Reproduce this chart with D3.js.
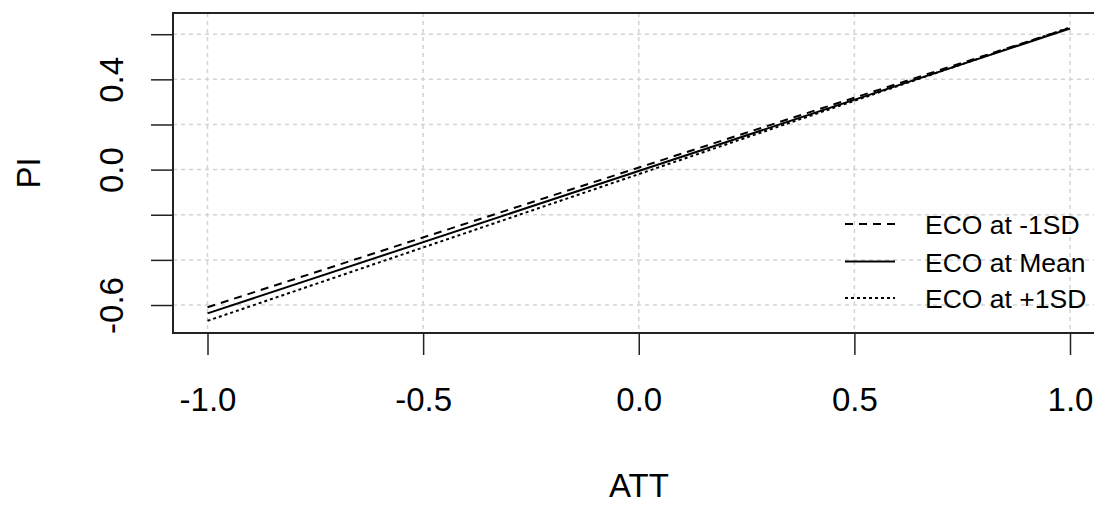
<!DOCTYPE html>
<html>
<head>
<meta charset="utf-8">
<script src="https://cdn.jsdelivr.net/npm/d3@7"></script>
<style>
  html, body { margin: 0; padding: 0; background: #fff; }
  svg { display: block; font-family: "Liberation Sans", Arial, sans-serif; }
</style>
</head>
<body>
<svg id="chart" width="1094" height="505"></svg>
<script>
// ---- data ----
const attValues = [-1, 1];
const ecoMinus1SD = [-0.610, 0.628];
const ecoMean = [-0.637, 0.625];
const ecoPlus1SD = [-0.670, 0.630];
const seriesNames = ["ECO at -1SD", "ECO at Mean", "ECO at +1SD"];
const xTicks = [-1.0, -0.5, 0.0, 0.5, 1.0];
const xTickLabels = ["-1.0", "-0.5", "0.0", "0.5", "1.0"];
const yTicks = [-0.6, -0.4, -0.2, 0.0, 0.2, 0.4, 0.6];
const yTickLabels = ["-0.6", "", "", "0.0", "", "0.4", ""];
const xDomain = [-1.08, 1.08];
const yDomain = [-0.724, 0.694];

// ---- layout ----
const svg = d3.select("#chart");
const plot = { left: 173, right: 1104.5, top: 13, bottom: 333 };
const x = d3.scaleLinear().domain(xDomain).range([plot.left, plot.right]);
const y = d3.scaleLinear().domain(yDomain).range([plot.bottom, plot.top]);

const dashes = ["8,6", null, "3,3"];
const seriesData = [ecoMinus1SD, ecoMean, ecoPlus1SD];

// grid
const grid = svg.append("g");
grid.selectAll("line.gx").data(xTicks).enter().append("line")
  .attr("x1", d => x(d)).attr("x2", d => x(d))
  .attr("y1", plot.top).attr("y2", plot.bottom)
  .attr("stroke", "#d3d3d3").attr("stroke-width", 1.5).attr("stroke-dasharray", "4,4");
grid.selectAll("line.gy").data(yTicks).enter().append("line")
  .attr("y1", d => y(d)).attr("y2", d => y(d))
  .attr("x1", plot.left).attr("x2", plot.right)
  .attr("stroke", "#d3d3d3").attr("stroke-width", 1.5).attr("stroke-dasharray", "4,4");

// lines
const clip = svg.append("clipPath").attr("id", "clip").append("rect")
  .attr("x", plot.left).attr("y", plot.top)
  .attr("width", plot.right - plot.left).attr("height", plot.bottom - plot.top);
const lineGen = d3.line().x(d => x(d[0])).y(d => y(d[1]));
seriesData.forEach((vals, i) => {
  const pts = attValues.map((a, j) => [a, vals[j]]);
  svg.append("path")
    .attr("d", lineGen(pts))
    .attr("fill", "none")
    .attr("stroke", "#000")
    .attr("stroke-width", 2)
    .attr("stroke-dasharray", dashes[i])
    .attr("clip-path", "url(#clip)");
});

// box
svg.append("rect")
  .attr("x", plot.left).attr("y", plot.top)
  .attr("width", plot.right - plot.left).attr("height", plot.bottom - plot.top)
  .attr("fill", "none").attr("stroke", "#222").attr("stroke-width", 2);

// axes
const xAxis = d3.axisBottom(x).tickValues(xTicks).tickSize(22).tickPadding(33)
  .tickFormat((d, i) => xTickLabels[i]);
const gx = svg.append("g").attr("transform", `translate(0,${plot.bottom})`).call(xAxis);
gx.select(".domain").remove();
gx.selectAll(".tick line").attr("stroke", "#222").attr("stroke-width", 1.5);
gx.selectAll(".tick text").attr("font-size", 33).attr("fill", "#000")
  .attr("font-family", "Liberation Sans, Arial, sans-serif");

const yAxis = d3.axisLeft(y).tickValues(yTicks).tickSize(22).tickFormat((d, i) => yTickLabels[i]);
const gy = svg.append("g").attr("transform", `translate(${plot.left},0)`).call(yAxis);
gy.select(".domain").remove();
gy.selectAll(".tick line").attr("stroke", "#222").attr("stroke-width", 1.5);
gy.selectAll(".tick text")
  .attr("font-size", 33).attr("fill", "#000")
  .attr("font-family", "Liberation Sans, Arial, sans-serif")
  .attr("x", null).attr("dy", null)
  .attr("text-anchor", "middle")
  .attr("transform", "translate(-50,0) rotate(-90)");

// axis titles
svg.append("text").attr("x", 639).attr("y", 497).attr("text-anchor", "middle")
  .attr("font-size", 33).text("ATT");
svg.append("text").attr("transform", "translate(40,173) rotate(-90)")
  .attr("text-anchor", "middle").attr("font-size", 33).text("PI");

// legend
const legend = svg.append("g");
const rowYs = [224, 261.5, 298];
seriesNames.forEach((name, i) => {
  legend.append("line")
    .attr("x1", 845).attr("x2", 895).attr("y1", rowYs[i]).attr("y2", rowYs[i])
    .attr("stroke", "#000").attr("stroke-width", 2).attr("stroke-dasharray", dashes[i]);
  legend.append("text").attr("x", 925).attr("y", rowYs[i] + 10)
    .attr("font-size", 26.5).text(name);
});
</script>
</body>
</html>
